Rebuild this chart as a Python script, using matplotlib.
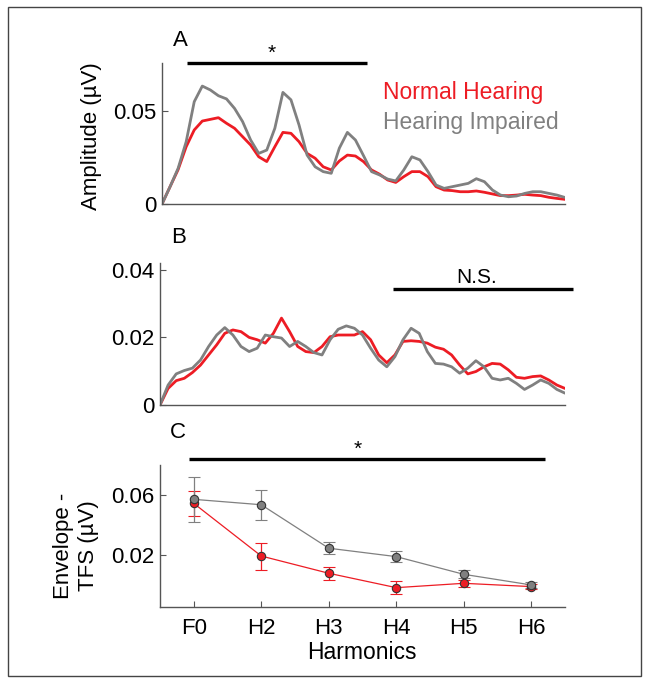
import numpy as np
import matplotlib
matplotlib.use('Agg')
import matplotlib.pyplot as plt
from matplotlib.patches import Rectangle

plt.rcParams['font.family'] = ['Liberation Sans', 'DejaVu Sans']

W, H = 649, 685

# spectra (arbitrary frequency bins)
nh_a = [0.0, 0.0093, 0.0185, 0.0308, 0.0398, 0.0446, 0.0455, 0.0464, 0.0434, 0.0407,
        0.0362, 0.0317, 0.0254, 0.0228, 0.0308, 0.0385, 0.038, 0.0335, 0.0272, 0.0246,
        0.0200, 0.0183, 0.0231, 0.0263, 0.0258, 0.0228, 0.0183, 0.016, 0.0129, 0.0116,
        0.0147, 0.0174, 0.0174, 0.0147, 0.0093, 0.0075, 0.0072, 0.0066, 0.0066, 0.007,
        0.0063, 0.0054, 0.0045, 0.0045, 0.0048, 0.0052, 0.0048, 0.0045, 0.0036, 0.003,
        0.0025]
hi_a = [0.0, 0.0093, 0.0192, 0.0335, 0.055, 0.0634, 0.0613, 0.0582, 0.0565, 0.0514,
        0.0443, 0.0344, 0.0272, 0.029, 0.0407, 0.0600, 0.0560, 0.0425, 0.0263, 0.0200,
        0.0174, 0.0165, 0.0300, 0.0385, 0.0344, 0.0260, 0.0174, 0.0156, 0.0134, 0.0124,
        0.0183, 0.0254, 0.0237, 0.0174, 0.0102, 0.0084, 0.0093, 0.0102, 0.0111, 0.0136,
        0.012, 0.0075, 0.0048, 0.0039, 0.0043, 0.0057, 0.0066, 0.0066, 0.0057, 0.0048,
        0.0035]
nh_b = [0.0, 0.0049, 0.0072, 0.0079, 0.0096, 0.0118, 0.0148, 0.0178, 0.0212, 0.0222,
        0.0217, 0.020, 0.0193, 0.0183, 0.0212, 0.0257, 0.0217, 0.0173, 0.0158, 0.0155,
        0.0173, 0.0202, 0.0207, 0.0207, 0.0207, 0.0217, 0.0193, 0.0148, 0.0125, 0.0148,
        0.0188, 0.019, 0.0188, 0.0183, 0.0171, 0.0165, 0.0148, 0.0118, 0.0092, 0.0099,
        0.0113, 0.0123, 0.0121, 0.0104, 0.0082, 0.0079, 0.0084, 0.0086, 0.0074, 0.0059,
        0.0049]
hi_b = [0.0, 0.0059, 0.0092, 0.0102, 0.0109, 0.0133, 0.0173, 0.0207, 0.0229, 0.0207,
        0.0173, 0.0158, 0.0168, 0.0207, 0.0202, 0.0198, 0.0173, 0.0188, 0.0173, 0.0155,
        0.0148, 0.0193, 0.0224, 0.0234, 0.0227, 0.0207, 0.0168, 0.0133, 0.0113, 0.0143,
        0.0193, 0.0227, 0.0212, 0.0158, 0.0123, 0.0121, 0.0113, 0.0094, 0.0109, 0.0131,
        0.0113, 0.0079, 0.0074, 0.0079, 0.0064, 0.0046, 0.0059, 0.0074, 0.0064, 0.0046,
        0.0035]

# envelope - TFS per harmonic
harmonics = ['F0', 'H2', 'H3', 'H4', 'H5', 'H6']
nh_c = [0.0544, 0.0193, 0.0078, -0.0018, 0.0011, -0.0011]
nh_c_err = [0.0085, 0.009, 0.0044, 0.0045, 0.0025, 0.0015]
hi_c = [0.0571, 0.0535, 0.0245, 0.0189, 0.0071, 0.0000]
hi_c_err = [0.015, 0.010, 0.004, 0.0038, 0.0027, 0.002]

red = '#ed1c24'
gray = '#808080'
axcol = '#555555'
fs = 16


def px(x, y):
    return x / W, 1 - y / H


def box(l, t, r, b):
    return [l / W, 1 - b / H, (r - l) / W, (b - t) / H]


def style(ax):
    for s in ['top', 'right']:
        ax.spines[s].set_visible(False)
    for s in ['left', 'bottom']:
        ax.spines[s].set_color(axcol)
        ax.spines[s].set_linewidth(1)
    ax.tick_params(direction='in', length=4, color=axcol, labelsize=fs, pad=4)


fig = plt.figure(figsize=(W / 100, H / 100), dpi=100)
fig.patches.append(Rectangle((8 / W, 1 - 676 / H), 633 / W, 669 / H, transform=fig.transFigure,
                             fill=False, edgecolor='#444444', linewidth=1))

bins = np.arange(len(nh_a))
curve = dict(lw=2.0, solid_joinstyle='round', solid_capstyle='round')

# A
ax = fig.add_axes(box(162, 63, 565, 204))
style(ax)
ax.plot(bins, nh_a, color=red, **curve)
ax.plot(bins, hi_a, color=gray, **curve)
ax.set_xlim(0, 50)
ax.set_ylim(0, 0.0758)
ax.set_xticks([])
ax.set_yticks([0, 0.05])
ax.set_yticklabels(['0', '0.05'])
ax.plot([0.062, 0.509], [1.0, 1.0], transform=ax.transAxes, color='black', lw=2.4,
        clip_on=False, solid_capstyle='butt')

# B
bx = fig.add_axes(box(160, 263, 565, 405))
style(bx)
bx.plot(bins, nh_b, color=red, **curve)
bx.plot(bins, hi_b, color=gray, **curve)
bx.set_xlim(0, 50)
bx.set_ylim(0, 0.042)
bx.set_xticks([])
bx.set_yticks([0, 0.02, 0.04])
bx.set_yticklabels(['0', '0.02', '0.04'])
bx.plot([(393 - 160) / 405, (573 - 160) / 405], [(405 - 289) / 142] * 2, transform=bx.transAxes,
        color='black', lw=2.4, clip_on=False, solid_capstyle='butt')

# C
cx = fig.add_axes(box(160, 465, 565, 607))
style(cx)
pos = np.arange(1, len(harmonics) + 1)
cx.errorbar(pos, nh_c, yerr=nh_c_err, fmt='-o', color=red, lw=0.9, elinewidth=0.9,
            capsize=4.5, capthick=0.9, ms=6, mfc=red, mec='#333333', mew=0.8)
cx.errorbar(pos, hi_c, yerr=hi_c_err, fmt='-o', color=gray, lw=0.9, elinewidth=0.9,
            capsize=4.5, capthick=0.9, ms=6, mfc=gray, mec='#333333', mew=0.8)
cx.set_xlim(0.5, 6.5)
cx.set_ylim(-0.0147, 0.08)
cx.set_xticks(pos)
cx.set_xticklabels(harmonics)
cx.set_yticks([0.02, 0.06])
cx.set_yticklabels(['0.02', '0.06'])
cx.tick_params(axis='x', pad=8)
cx.plot([0.93, 6.21], [0.084, 0.084], color='black', lw=2.4, clip_on=False,
        solid_capstyle='butt')

# texts
fig.text(*px(180, 40), 'A', fontsize=fs, ha='center', va='center')
fig.text(*px(179, 238), 'B', fontsize=fs, ha='center', va='center')
fig.text(*px(178, 432), 'C', fontsize=fs, ha='center', va='center')
fig.text(*px(272, 59), '*', fontsize=15, ha='center', va='baseline')
fig.text(*px(358, 455), '*', fontsize=15, ha='center', va='baseline')
fig.text(*px(477, 283), 'N.S.', fontsize=15, ha='center', va='baseline')
fig.text(*px(383, 93), 'Normal Hearing', fontsize=16.5, color=red, ha='left', va='center')
fig.text(*px(383, 122), 'Hearing Impaired', fontsize=16.5, color=gray, ha='left', va='center')
fig.text(*px(92, 136), 'Amplitude (µV)', fontsize=fs, rotation=90, ha='center', va='center')
fig.text(*px(76, 546), 'Envelope -\nTFS (µV)', fontsize=fs, rotation=90, ha='center',
         va='center', multialignment='center')
fig.text(*px(362, 659), 'Harmonics', fontsize=16.5, ha='center', va='baseline')

fig.savefig('out.png', dpi=100)
